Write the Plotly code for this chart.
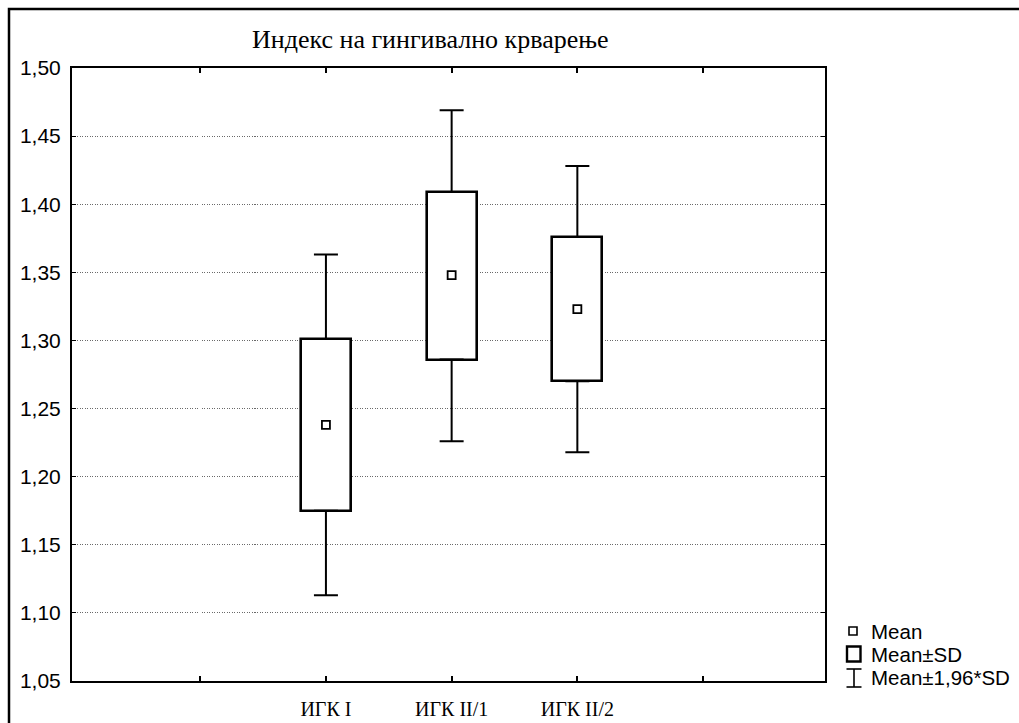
import plotly.graph_objects as go

# ---- data ----
categories = ["ИГК I", "ИГК II/1", "ИГК II/2"]
cat_pos = [2, 3, 4]
means = [1.238, 1.348, 1.323]
sd_low = [1.175, 1.286, 1.270]
sd_high = [1.301, 1.409, 1.376]
ci_low = [1.113, 1.226, 1.218]
ci_high = [1.363, 1.469, 1.428]
y_ticks = [1.05, 1.10, 1.15, 1.20, 1.25, 1.30, 1.35, 1.40, 1.45, 1.50]
x_tick_pos = [1, 2, 3, 4, 5]
x_tick_text = [""] + categories + [""]
legend_labels = ["Mean", "Mean±SD", "Mean±1,96*SD"]
title_text = "Индекс на гингивално крварење"

W, H = 1019, 723
L, R, T, B = 72, 825, 68, 681
PW, PH = R - L, B - T

SERIF = "Times New Roman, Liberation Serif, serif"
SANS = "Arial, Liberation Sans, sans-serif"


def px(p):
    return (p - L) / PW


def py(p):
    return (B - p) / PH


fig = go.Figure()

# Mean ± SD boxes
fig.add_trace(go.Bar(
    x=cat_pos,
    y=[h - l for h, l in zip(sd_high, sd_low)],
    base=sd_low,
    width=0.4,
    marker=dict(color="white", line=dict(color="black", width=2.6)),
    showlegend=False, hoverinfo="skip",
))

# upper whiskers (Mean ± 1.96*SD)
fig.add_trace(go.Scatter(
    x=cat_pos, y=sd_high, mode="markers",
    marker=dict(size=1, opacity=0),
    error_y=dict(type="data", symmetric=False,
                 array=[c - s for c, s in zip(ci_high, sd_high)],
                 arrayminus=[0] * len(cat_pos),
                 color="black", thickness=2, width=12),
    showlegend=False, hoverinfo="skip",
))
# lower whiskers
fig.add_trace(go.Scatter(
    x=cat_pos, y=sd_low, mode="markers",
    marker=dict(size=1, opacity=0),
    error_y=dict(type="data", symmetric=False,
                 array=[0] * len(cat_pos),
                 arrayminus=[s - c for s, c in zip(sd_low, ci_low)],
                 color="black", thickness=2, width=12),
    showlegend=False, hoverinfo="skip",
))
# mean markers
fig.add_trace(go.Scatter(
    x=cat_pos, y=means, mode="markers",
    marker=dict(symbol="square", size=8, color="white",
                line=dict(color="black", width=1.8)),
    showlegend=False, hoverinfo="skip",
))

shapes = []
# outer frame
shapes.append(dict(type="rect", xref="paper", yref="paper",
                   x0=px(9), x1=px(1040), y0=py(9), y1=py(740),
                   line=dict(color="black", width=2.5), layer="above"))

# legend icons
ly = [631, 654, 677]
shapes.append(dict(type="rect", xref="paper", yref="paper",
                   x0=px(849), x1=px(857), y0=py(627), y1=py(635),
                   line=dict(color="black", width=1.6), fillcolor="white"))
shapes.append(dict(type="rect", xref="paper", yref="paper",
                   x0=px(847), x1=px(860.5), y0=py(646.5), y1=py(661.5),
                   line=dict(color="black", width=2.4), fillcolor="white"))
shapes.append(dict(type="line", xref="paper", yref="paper",
                   x0=px(854), x1=px(854), y0=py(669), y1=py(687),
                   line=dict(color="black", width=1.6)))
shapes.append(dict(type="line", xref="paper", yref="paper",
                   x0=px(846.5), x1=px(861.5), y0=py(669), y1=py(669),
                   line=dict(color="black", width=1.6)))
shapes.append(dict(type="line", xref="paper", yref="paper",
                   x0=px(846.5), x1=px(861.5), y0=py(687), y1=py(687),
                   line=dict(color="black", width=1.6)))

annotations = []
for lab, yy in zip(legend_labels, ly):
    annotations.append(dict(text=lab, xref="paper", yref="paper",
                            x=px(869), y=py(yy), xanchor="left", yanchor="middle",
                            showarrow=False,
                            font=dict(family=SANS, size=20.5, color="black")))
annotations.append(dict(text=title_text, xref="paper", yref="paper",
                        x=px(430), y=py(40), xanchor="center", yanchor="middle",
                        showarrow=False,
                        font=dict(family=SERIF, size=26, color="black")))

fig.update_layout(
    width=W, height=H,
    margin=dict(l=L, r=W - R, t=T, b=H - B, pad=0, autoexpand=False),
    paper_bgcolor="white", plot_bgcolor="white",
    separators=",.",
    bargap=0,
    shapes=shapes,
    annotations=annotations,
    showlegend=False,
    xaxis=dict(range=[-0.02, 5.97], tickmode="array", tickvals=x_tick_pos,
               ticktext=x_tick_text, ticks="inside", ticklen=5, tickwidth=1.5,
               tickcolor="black", mirror="ticks", showline=True, linewidth=2,
               linecolor="black", showgrid=False, zeroline=False,
               automargin=False, ticklabelstandoff=9,
               tickfont=dict(family=SERIF, size=20, color="black")),
    yaxis=dict(range=[1.05, 1.50], tickmode="array", tickvals=y_ticks,
               tickformat=".2f", ticks="inside", ticklen=4, tickwidth=1.2,
               tickcolor="black", mirror="ticks", showline=True, linewidth=2,
               linecolor="black", showgrid=True, griddash="1px,1.5px",
               gridcolor="#6a6a6a", gridwidth=1, zeroline=False,
               automargin=False, ticklabelstandoff=5,
               tickfont=dict(family=SANS, size=21, color="black")),
)

fig.write_html(
    "out.html",
    config={"displayModeBar": False},
    post_script="document.body.style.margin='0';document.body.style.overflow='hidden';",
)
